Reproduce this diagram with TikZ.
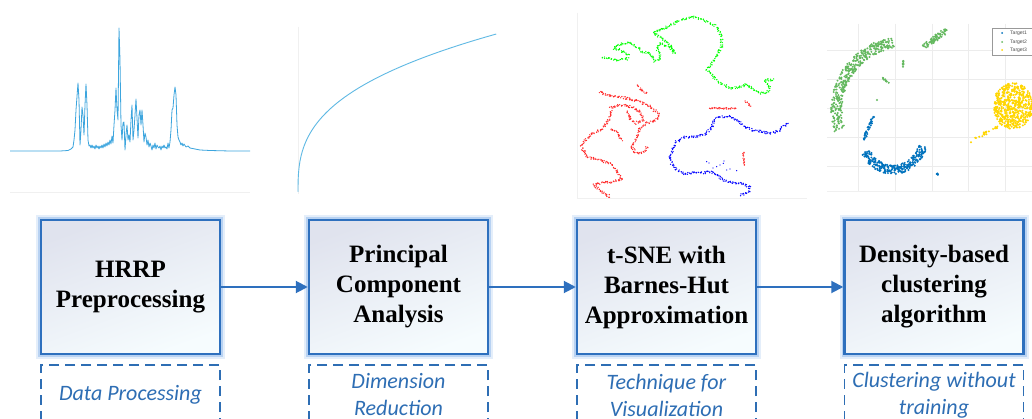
\documentclass[tikz,border=0pt]{standalone}
\usepackage{fontspec}
\setmainfont{Liberation Serif}
\newfontfamily\labfont{Carlito}
\newfontfamily\legfont{Liberation Sans}
\usetikzlibrary{arrows.meta}
\definecolor{mainblue}{RGB}{46,112,190}
\definecolor{labblue}{RGB}{46,110,180}
\definecolor{glowblue}{RGB}{120,170,230}
\definecolor{boxtop}{RGB}{224,227,238}
\definecolor{boxbot}{RGB}{246,252,254}
\definecolor{hrrpc}{RGB}{60,165,222}
\definecolor{pcac}{RGB}{95,185,228}
\definecolor{tone}{RGB}{0,114,189}
\definecolor{ttwo}{RGB}{100,185,95}
\definecolor{tthree}{RGB}{255,214,0}
\definecolor{gridc}{RGB}{236,236,236}
\tikzset{
  procbox/.style={draw=mainblue, line width=2.5, minimum width=179, minimum height=134,
    inner sep=0, align=center, font=\bfseries\fontsize{25}{30}\selectfont,
    top color=boxtop, bottom color=boxbot, shading angle=20,
    preaction={draw=glowblue, line width=10, draw opacity=0.2},
    preaction={draw=glowblue, line width=6, draw opacity=0.4}},
  labbox/.style={draw=labblue, line width=1.3, dash pattern=on 10pt off 6pt,
    minimum width=179, minimum height=60, inner sep=0, align=center,
    text=labblue, font=\labfont\itshape\fontsize{22}{27}\selectfont},
  flow/.style={draw=mainblue, line width=2, -{Triangle[length=12pt,width=12pt]}},
  frameline/.style={draw=black!6, line width=0.4},
  legtext/.style={anchor=west, inner sep=0, text=black!70, font=\legfont\fontsize{5}{6}\selectfont}
}
\newcommand\dotcurve[3]{% color, jitter, list of x/y
  \foreach \px/\py [remember=\px as \qx (initially N), remember=\py as \qy (initially N)] in {#3}{%
    \if N\qx\else
      \pgfmathsetmacro\dcLen{veclen(\px-\qx,\py-\qy)}%
      \pgfmathtruncatemacro\dcN{max(2,\dcLen/0.8)}%
      \foreach \k in {1,...,\dcN}{%
        \pgfmathsetmacro\dcT{\k/\dcN}%
        \fill[#1] ({\qx+\dcT*(\px-\qx)+#2*(rnd-0.5)},{\qy+\dcT*(\py-\qy)+#2*(rnd-0.5)}) circle (0.7);
      }%
    \fi}}
\begin{document}
\begin{tikzpicture}[x=1pt,y=-1pt]
\useasboundingbox (0,0) rectangle (1032,419);
\fill[white] (0,0) rectangle (1032,419);

% ---------- HRRP plot ----------
\draw[frameline] (10,192) -- (250,192);
\draw[hrrpc, line width=0.8, line join=round] plot coordinates {
(10,151) (60,151) (68,150.5) (71,149) (73,147) (74,140) (75,130) (76,110) (78,83) (79,100) (80,145) (81,130) (82,107) (83,115) (84,135) (85,105) (86,84) (87,105) (88,140) (89,146) (90,145) (91,148) (92,145) (93,148) (94,146) (95,149) (96,145) (97,148) (98,146) (99,149) (100,146) (101,148) (102,145) (103,148) (104,144) (105,147) (106,143) (107,146) (108,142) (109,145) (110,140) (111,144) (112,136) (113,143) (114,125) (115,110) (116,88) (117,110) (118,120) (119,28) (120,60) (121,125) (122,140) (123,123) (124,122) (125,150) (126,135) (127,125) (128,140) (129,135) (130,142) (131,120) (132,105) (133,140) (134,130) (135,115) (136,99) (137,118) (138,138) (139,115) (140,110) (141,125) (142,110) (143,125) (144,142) (145,133) (146,137) (147,145) (148,140) (149,147) (150,143) (151,146) (152,150) (153,145) (154,148) (155,143) (156,149) (157,145) (158,147) (159,148) (160,146) (161,150) (162,146) (163,148) (164,145) (165,148) (166,147) (167,149) (168,143) (169,148) (170,142) (171,130) (172,110) (173,108) (174,95) (175,87) (176,95) (177,125) (178,137) (179,140) (180,142) (181,145) (182,143) (183,146) (184,144) (186,147) (188,146) (190,148) (195,149) (200,150) (210,150.5) (230,151) (250,151)};

% ---------- PCA curve ----------
\draw[frameline] (298,27) -- (298,194);
\draw[pcac, line width=0.9] plot[domain=0.05:6.37, samples=120] ({298+pow(\x,2.857)},{193-24.96*\x});

% ---------- t-SNE ----------
\draw[frameline] (577,13) -- (577,198) -- (807,198);
\pgfmathsetseed{11}
\dotcurve{green}{2.4}{601.7/57.3, 615/60, 626.7/59.3, 628.3/55, 620/50, 613.3/48.3, 618.3/45, 630/42.7, 636.7/46.7, 643.3/51.7, 650/53.3, 655/61.7, 660/60, 660/53.3, 656.7/48.3, 660/43.3, 668.3/46.7, 675/53.3, 670/45, 660/36.7, 653.3/33.3, 660/30, 670/26, 676.7/21.7, 683.3/19.3, 693.3/16.7, 701.7/19.3, 710/23.3, 716.7/26.7, 721.7/36.7, 721.7/46.7, 716.7/56.7, 710/65, 706.7/70, 713.3/76.7, 720/83.3, 730/88.3, 740/86.7, 746.7/84, 751.7/88.3, 760/93.3, 768.3/91.7, 770/86.7, 765/80, 773.3/80}
\dotcurve{red!85}{2.4}{598.3/91.7, 606.7/95, 616.7/96.7, 626.7/98.3, 640/101.7, 650/106.7, 658.3/113.3, 656.7/120, 646.7/123.3, 640/128.3, 636.7/136.7, 631.7/146.7, 635/153.3, 643.3/152.7, 647.3/146.7}
\dotcurve{red!85}{2.4}{610/108.3, 618.3/105, 631.7/106.7, 640/111.7, 643.3/120, 636.7/123.3, 630/118.3, 626.7/111.7}
\dotcurve{red!85}{2.4}{611.7/110, 608.3/120, 603.3/128.3, 593.3/133.3, 585/140, 581.7/146.7, 586.7/156.7, 598.3/160, 610/163.3, 616.7/170, 621.7/180, 613.3/181.7, 603.3/182.7, 593.3/185, 600/190, 610/196.7}
\dotcurve{red!85}{2}{610/128.3, 616.7/131.7, 621.7/140}
\dotcurve{red!85}{2}{636.7/85, 641.7/90, 646.7/94}
\dotcurve{red!85}{1.5}{709.3/108.3, 736/108.3}
\dotcurve{red!85}{1.5}{745/101, 750.7/105.7}
\dotcurve{red!85}{1.5}{743.3/151.7, 744.3/165}
\dotcurve{blue}{2.4}{740/195, 748.3/192.7, 750/187.3, 743.3/184, 733.3/182.7, 723.3/180, 716.7/175, 710/171.7, 700/173.3, 693.3/172.7, 685/174, 676.7/170, 671.7/163.3, 670/156.7, 673.3/148.3, 676.7/141.7, 685/137.3, 696.7/136.7, 706.7/133.3, 711.7/128.3, 714/120, 720/116.7, 728.3/116.7, 736.7/120, 745/126.7, 751.7/130, 761.7/131.7, 770/133.3, 778.3/130.7, 783.3/126.7, 788.3/122.7}
\foreach \bx/\by in {706.7/161.7, 709/163, 716.7/166.7, 720/165, 723.3/163.3, 726.7/170, 730/169, 736.7/170.7, 713/168, 724/161}
  \fill[blue] (\bx,\by) circle (0.7);

% ---------- clustering scatter ----------
\foreach \gx in {858,895,932,968,1005} \draw[gridc, line width=0.8] (\gx,24) -- (\gx,191);
\foreach \gy in {50,79,108,137,166} \draw[gridc, line width=0.8] (827,\gy) -- (1032,\gy);
\draw[frameline] (827,191) -- (1032,191);
\pgfmathsetseed{7}
\foreach \i in {1,...,380}{
  \pgfmathsetmacro\aa{100+97*rnd}
  \pgfmathsetmacro\rr{63+11*rnd}
  \fill[ttwo] ({905+\rr*cos(\aa)},{110-\rr*sin(\aa)}) circle (1.1);
}
\foreach \i in {1,...,70}{
  \pgfmathsetmacro\tt{rnd}
  \fill[ttwo] ({924+22*\tt+5*(rnd-0.5)},{46-16*\tt+6*(rnd-0.5)}) circle (1.1);
}
\foreach \i in {1,...,10}{
  \pgfmathsetmacro\tt{rnd}
  \fill[ttwo] ({882+8*\tt},{78+5*\tt+2*(rnd-0.5)}) circle (1.1);
  \fill[ttwo] ({903+2*(rnd-0.5)},{60+8*\tt}) circle (1.1);
}
\fill[ttwo] (877,100) circle (1.1);
\foreach \i in {1,...,260}{
  \pgfmathsetmacro\aa{-157+145*rnd}
  \pgfmathsetmacro\rr{25+9*rnd}
  \fill[tone] ({893+\rr*cos(\aa)},{140-\rr*sin(\aa)}) circle (1.1);
}
\foreach \i in {1,...,35}{
  \pgfmathsetmacro\tt{rnd}
  \fill[tone] ({864+9*\tt+3*(rnd-0.5)},{140-23*\tt}) circle (1.1);
}
\foreach \i in {1,...,5} \fill[tone] ({936+3*rnd},{170+5*rnd}) circle (1.1);
\foreach \i in {1,...,520}{
  \pgfmathsetmacro\rr{sqrt(rnd)}
  \pgfmathsetmacro\aa{360*rnd}
  \fill[tthree] ({1013+20*\rr*cos(\aa)},{106+23*\rr*sin(\aa)}) circle (1.1);
}
\foreach \i in {1,...,22}{
  \pgfmathsetmacro\tt{rnd}
  \fill[tthree] ({998-30*\tt+3*(rnd-0.5)},{127+15*\tt+3*(rnd-0.5)}) circle (1.1);
}
\draw[black!40, fill=white, line width=0.5] (992,28) rectangle (1040,55);
\fill[tone] (1002,33) circle (1);
\fill[ttwo] (1002,42) circle (1);
\fill[tthree] (1002,50) circle (1);
\node[legtext] (lg1) at (1010,33) {Target1};
\node[legtext] (lg2) at (1010,42) {Target2};
\node[legtext] (lg3) at (1010,50) {Target3};

% ---------- process boxes ----------
\node[procbox] (b1) at (130.5,287) {HRRP\\Preprocessing};
\node[procbox] (b2) at (398.5,287) {Principal\\Component\\Analysis};
\node[procbox] (b3) at (666.5,287) {t-SNE with\\Barnes-Hut\\Approximation};
\node[procbox] (b4) at (934,287) {Density-based\\clustering\\algorithm};
\draw[flow] (b1) -- (b2);
\draw[flow] (b2) -- (b3);
\draw[flow] (b3) -- (b4);

% ---------- labels ----------
\node[labbox] (l1) at (130.5,395) {Data Processing};
\node[labbox] (l2) at (398.5,395) {Dimension\\Reduction};
\node[labbox] (l3) at (666.5,395) {Technique for\\Visualization};
\node[labbox] (l4) at (934,395) {Clustering without\\training};
\end{tikzpicture}
\end{document}
